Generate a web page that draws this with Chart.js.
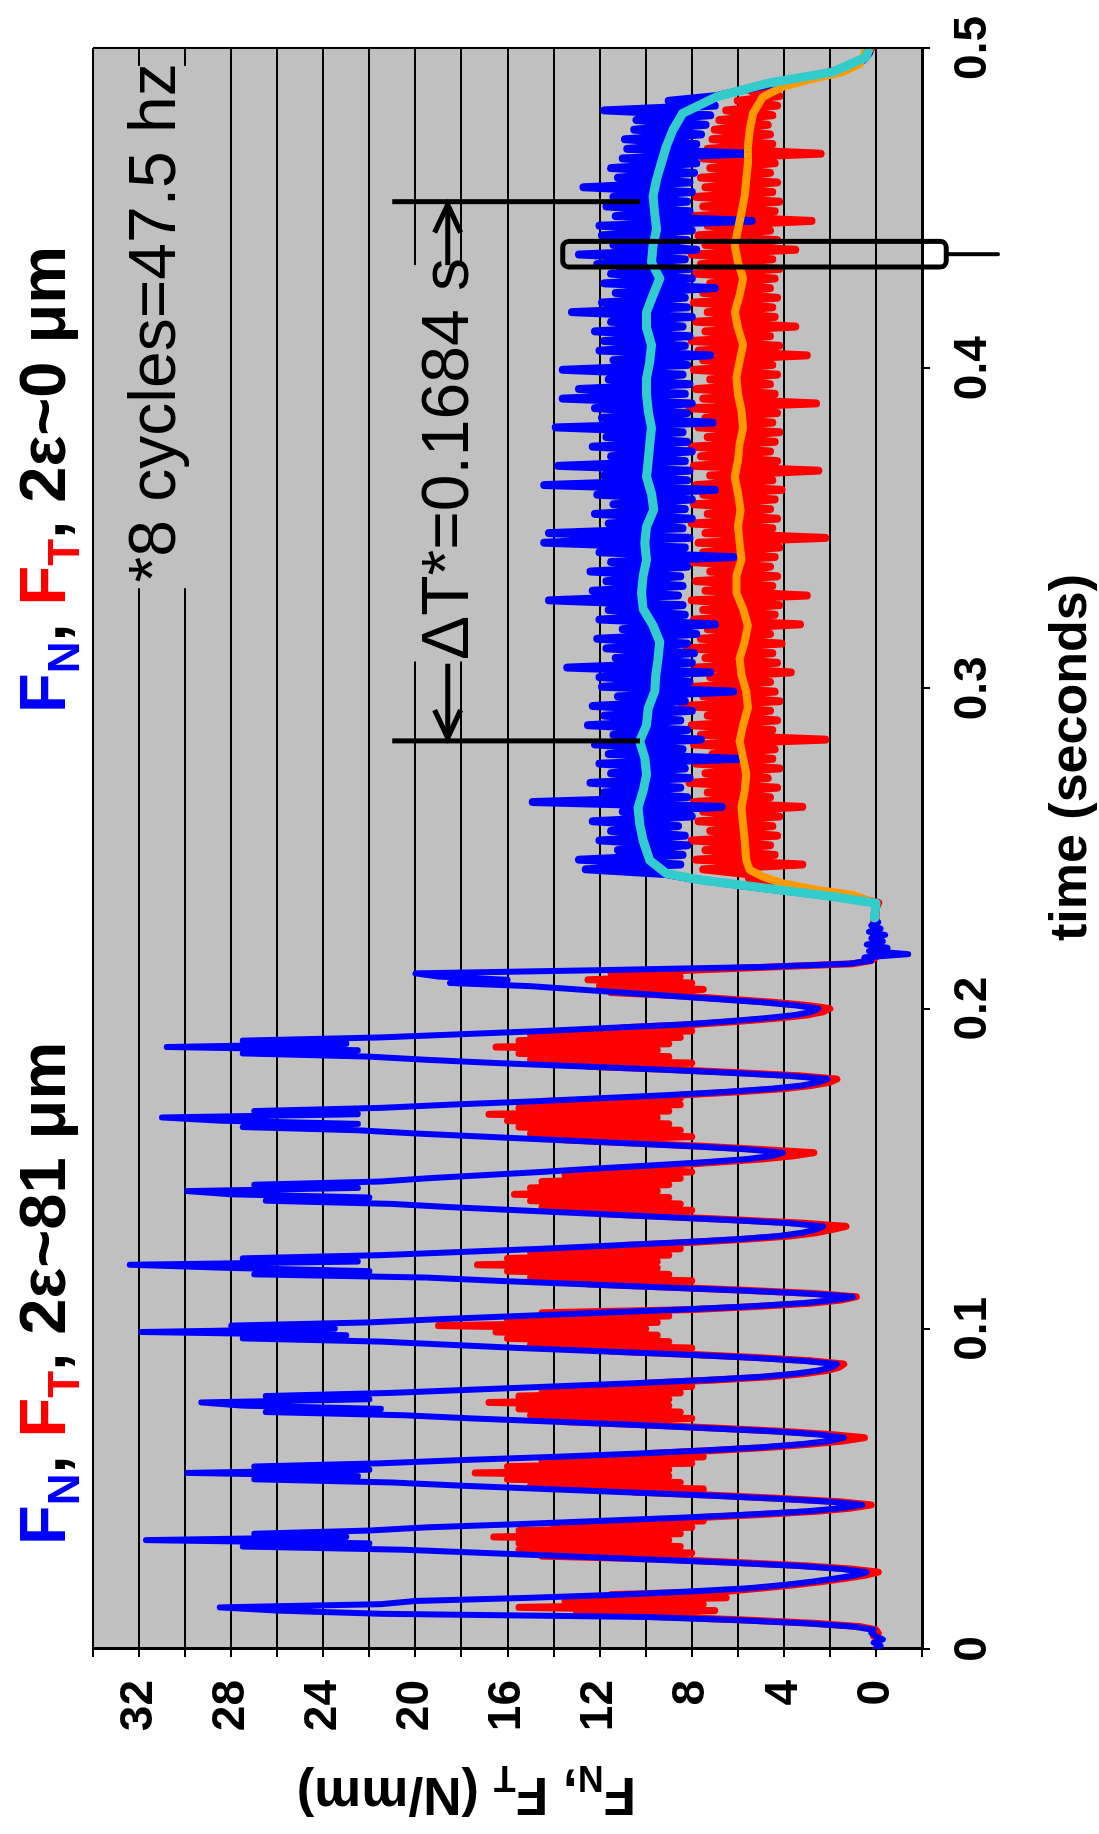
<!DOCTYPE html>
<html>
<head>
<meta charset="utf-8">
<script src="https://cdn.jsdelivr.net/npm/chart.js@4/dist/chart.umd.min.js"></script>
<style>
html, body { margin: 0; padding: 0; background: #fff; overflow: hidden; }
/* the figure is drawn lying on its side: time runs up the page */
#wrap { position: absolute; left: 0; top: 0; width: 1834px; height: 1099px;
        transform-origin: 0 0; transform: translate(0, 1834px) rotate(-90deg); }
</style>
</head>
<body>
<div id="wrap"><canvas id="chart" width="1834" height="1099"></canvas></div>
<script>
// ---- traces ----
// first run, 2e ~ 81 um, one sample per ms from t = 0
const sweepStart = 0
const sweepStep = 0.001
const fnSweep = [
  0.0, -0.2, 0.1, -0.3, 0.0, 0.2, 0.1, 1.0, 3.0, 6.0,
  10.0, 21.5, 26.0, 28.5, 21.5, 20.0, 15.0, 11.0, 8.0, 5.5,
  4.0, 2.8, 1.8, 0.9, 0.4, 1.5, 3.5, 6.5, 10.0, 13.5,
  17.0, 20.5, 27.5, 22.0, 31.7, 23.0, 27.0, 22.0, 19.5, 15.5,
  12.0, 8.5, 5.5, 3.0, 1.5, 0.6, 2.0, 4.5, 7.5, 11.0,
  14.5, 18.0, 21.0, 27.0, 22.5, 29.9, 22.0, 27.0, 21.5, 18.0,
  14.0, 10.5, 7.5, 5.0, 3.2, 2.0, 1.4, 2.5, 4.5, 7.5,
  10.5, 14.0, 17.5, 20.5, 26.5, 21.5, 27.5, 29.3, 22.0, 26.5,
  21.0, 17.5, 14.0, 10.5, 7.5, 5.0, 3.5, 2.5, 1.9, 1.7,
  3.2, 5.5, 8.5, 12.0, 15.5, 18.5, 21.5, 27.5, 23.0, 31.9,
  23.5, 28.0, 22.0, 19.0, 15.5, 12.0, 8.5, 5.5, 3.2, 1.8,
  1.0, 3.0, 6.0, 9.5, 13.0, 16.5, 19.5, 27.0, 22.0, 28.0,
  32.4, 22.5, 27.5, 21.5, 18.0, 14.5, 11.5, 8.5, 6.0, 4.2,
  3.2, 2.6, 2.3, 3.8, 6.5, 9.5, 12.5, 15.5, 18.5, 21.0,
  26.5, 22.0, 28.0, 29.9, 22.5, 27.0, 21.5, 19.5, 17.0, 14.5,
  12.3, 9.8, 7.5, 5.6, 4.5, 4.05, 5.5, 8.0, 11.0, 14.0,
  17.0, 20.0, 22.5, 27.5, 22.5, 28.5, 31.0, 22.5, 27.0, 21.5,
  18.5, 15.0, 12.0, 9.0, 6.5, 4.5, 3.2, 2.5, 2.1, 3.8,
  6.5, 9.5, 13.0, 16.5, 19.5, 22.0, 27.5, 22.5, 30.8, 23.0,
  27.5, 21.5, 18.0, 14.5, 11.5, 8.5, 6.5, 4.8, 3.5, 2.8,
  2.5, 3.5, 5.0, 7.0, 9.0, 11.0, 13.0, 15.0, 18.5, 16.0,
  19.0, 20.0, 12.0, 5.0, 1.2, 0.2, 0.5, -1.4, 0.3, -0.5,
  0.4, -0.3, 0.2, -0.4, 0.3, -0.2, 0.2, -0.1, 0.1, 0.0
]
const ftSweep = [
  0.0, -0.1, 0.0, -0.2, 0.1, -0.1, 0.0, 0.7, 2.6, 5.5,
  9.0, 13.0, 7.0, 15.5, 7.5, 13.5, 6.5, 11.5, 6.5, 5.0,
  3.6, 2.4, 1.4, 0.5, -0.1, 1.1, 3.1, 6.0, 9.0, 14.5,
  8.0, 15.5, 8.5, 15.5, 9.0, 16.6, 8.5, 15.5, 8.0, 14.0,
  7.5, 7.8, 5.0, 2.6, 1.1, 0.2, 1.6, 4.1, 7.0, 10.5,
  7.5, 15.0, 8.5, 16.0, 9.0, 17.4, 9.0, 16.0, 8.0, 14.5,
  7.5, 10.0, 7.0, 4.6, 2.8, 1.4, 0.5, 2.0, 4.1, 7.0,
  10.0, 13.5, 8.0, 15.0, 8.5, 15.5, 9.0, 16.8, 9.0, 15.5,
  8.5, 14.5, 8.0, 10.0, 7.0, 4.6, 3.1, 2.1, 1.6, 1.4,
  2.8, 5.1, 8.0, 11.5, 8.0, 15.0, 9.0, 16.0, 9.5, 16.5,
  10.0, 19.0, 9.5, 16.0, 9.0, 14.5, 8.0, 5.1, 2.8, 1.5,
  0.85, 2.6, 5.6, 9.0, 12.5, 8.0, 15.0, 9.0, 16.0, 9.5,
  17.3, 9.5, 16.0, 9.0, 15.0, 8.5, 11.0, 8.0, 5.6, 3.7,
  2.6, 1.9, 1.3, 3.2, 6.0, 9.0, 12.0, 8.0, 14.5, 8.5,
  15.0, 9.0, 15.7, 9.5, 15.0, 9.0, 14.5, 8.5, 13.5, 8.0,
  11.5, 9.0, 7.0, 5.0, 3.6, 2.7, 5.0, 7.5, 10.5, 13.5,
  8.0, 15.0, 8.5, 15.5, 9.0, 16.0, 9.5, 16.8, 9.0, 15.5,
  8.5, 14.5, 8.5, 8.5, 6.0, 4.0, 2.8, 2.0, 1.7, 3.3,
  6.0, 9.0, 12.5, 8.0, 15.0, 9.0, 15.5, 9.5, 16.5, 9.0,
  15.5, 8.5, 15.0, 8.0, 11.0, 8.0, 6.0, 4.3, 3.0, 2.3,
  2.0, 3.0, 4.5, 6.5, 8.5, 11.5, 7.5, 12.0, 8.0, 12.5,
  8.5, 11.5, 8.0, 4.5, 1.0, 0.2, 0.0, 0.1, 0.0, 0.1,
  0.0, 0.1, 0.0, 0.1, 0.0, 0.1, 0.0, 0.1, 0.0, 0.0
]

// second run, 2e ~ 0 um, one sample per 1.5 ms from t = 0.230
const steadyStart = 0.230
const steadyStep = 0.0015
const fnSteady = [
  0.05, 0.0, 0.0, 1.2, 3.0, 4.7, 6.4, 7.9, 9.1, 12.6,
  8.5, 12.9, 8.4, 11.2, 8.2, 12.0, 8.3, 11.5, 8.6, 12.3,
  8.0, 11.0, 6.7, 14.9, 8.2, 11.8, 8.5, 12.4, 8.1, 11.5,
  8.3, 12.0, 6.0, 11.6, 8.4, 12.2, 7.6, 11.4, 8.2, 12.5,
  8.5, 11.8, 8.0, 12.3, 8.3, 11.2, 6.2, 11.9, 8.1, 12.0,
  7.2, 13.4, 8.0, 11.3, 7.9, 11.7, 8.2, 12.1, 7.8, 11.0,
  7.0, 12.0, 8.3, 11.6, 8.4, 14.2, 8.6, 12.3, 8.4, 11.7,
  8.5, 12.4, 8.2, 11.5, 6.2, 12.0, 8.3, 14.4, 8.1, 14.2,
  8.4, 11.6, 8.0, 12.2, 8.3, 11.4, 8.0, 12.1, 7.0, 14.4,
  8.2, 11.8, 8.1, 13.8, 8.3, 11.5, 8.0, 12.3, 8.2, 11.7,
  8.4, 13.9, 7.1, 11.9, 8.2, 12.2, 8.0, 13.6, 8.3, 12.9,
  8.1, 11.6, 8.4, 13.6, 8.2, 11.4, 7.2, 12.0, 8.3, 11.8,
  8.1, 12.2, 8.4, 11.5, 8.0, 13.2, 8.2, 11.9, 8.3, 11.3,
  7.0, 11.8, 8.0, 11.5, 8.1, 12.1, 8.3, 12.9, 7.8, 11.4,
  8.2, 11.9, 8.0, 12.0, 5.4, 11.3, 8.1, 11.7, 8.2, 11.4,
  8.0, 12.7, 8.1, 11.2, 7.9, 11.5, 7.8, 11.0, 5.7, 10.8,
  7.8, 10.9, 7.6, 10.5, 7.4, 10.4, 7.2, 11.8, 7.0, 9.0,
  6.9, 6.0, 5.0, 4.0, 2.9, 1.9, 1.2, 0.7, 0.45, 0.3,
  0.3
]
const ftSteady = [
  0.0, 0.0, -0.1, 0.8, 2.3, 3.9, 4.9, 5.5, 5.6, 7.5,
  3.2, 7.8, 4.4, 7.4, 4.6, 8.0, 4.3, 7.2, 4.5, 7.7,
  4.2, 7.5, 3.2, 7.9, 4.6, 7.3, 4.3, 8.1, 4.7, 7.4,
  4.2, 7.8, 4.5, 7.1, 4.4, 7.9, 2.2, 7.6, 4.5, 8.0,
  4.3, 7.3, 4.6, 8.4, 4.2, 7.5, 4.4, 7.9, 4.6, 7.2,
  3.7, 7.8, 4.3, 7.4, 4.5, 8.2, 4.1, 7.6, 4.6, 7.3,
  3.3, 7.9, 4.4, 7.5, 4.2, 8.0, 3.0, 7.4, 4.5, 7.8,
  4.3, 7.2, 4.6, 8.1, 4.4, 7.5, 4.2, 7.7, 2.2, 7.4,
  4.5, 8.0, 4.3, 7.3, 4.6, 7.9, 4.4, 7.5, 4.1, 7.8,
  4.5, 7.2, 2.5, 7.9, 4.3, 7.6, 4.6, 8.0, 4.4, 7.3,
  4.2, 7.7, 4.5, 7.4, 4.3, 8.1, 2.6, 7.5, 4.4, 7.8,
  4.6, 7.2, 4.3, 7.9, 4.5, 7.5, 3.0, 7.7, 4.2, 8.0,
  4.6, 7.4, 3.5, 7.8, 4.4, 7.3, 4.5, 7.9, 4.3, 7.5,
  4.6, 7.2, 4.4, 7.8, 4.2, 7.6, 4.5, 8.0, 3.5, 7.4,
  4.3, 7.7, 4.6, 7.3, 2.8, 7.9, 4.4, 7.5, 4.2, 7.8,
  4.5, 7.4, 4.3, 7.6, 4.6, 7.2, 4.4, 7.5, 2.4, 7.3,
  4.5, 7.1, 4.6, 7.0, 4.7, 6.8, 4.5, 6.5, 4.3, 6.0,
  4.2, 5.4, 4.3, 3.8, 2.8, 2.0, 1.3, 0.8, 0.5, 0.3,
  0.2
]

// smoothed traces of the second run
const fnMeanTime = [
  0.2283, 0.2329, 0.2350, 0.2376, 0.2402, 0.2422, 0.2463,
  0.2525, 0.2577, 0.2628, 0.2680, 0.2732, 0.2783, 0.2835, 0.2886, 0.2938, 0.2990,
  0.3041, 0.3093, 0.3145, 0.3196, 0.3248, 0.3299, 0.3351, 0.3402, 0.3454, 0.3506,
  0.3557,
  0.3609, 0.3660, 0.3712, 0.3764, 0.3815, 0.3867, 0.3918, 0.3970, 0.4022, 0.4073,
  0.4125, 0.4176, 0.4228, 0.4280, 0.4331, 0.4383, 0.4434, 0.4486, 0.4538, 0.4589,
  0.4641, 0.4693, 0.4744, 0.4796,
  0.4847, 0.4889, 0.4925, 0.4971, 0.4997
]
const fnMean = [
  0.06, 0.0, 1.88, 4.77, 7.66, 9.1, 9.82,
  10.11, 10.26, 10.33, 10.11, 9.96, 10.04, 10.26, 9.96, 9.89, 9.61,
  9.56, 9.46, 9.39, 9.68, 10.11, 10.18, 10.11, 9.96, 10.04, 9.96,
  9.65,
  9.75, 9.96, 9.89, 9.82, 9.75, 9.89, 9.96, 9.96, 9.82, 9.75,
  9.96, 9.96, 9.68, 9.39, 9.75, 9.68, 9.53, 9.61, 9.68, 9.53,
  9.32, 9.1, 8.82, 8.39,
  6.94, 4.77, 1.88, 0.44, 0.3
]
const ftMeanTime = [
  0.2283, 0.2329, 0.2355, 0.2371, 0.2391, 0.2412, 0.2433, 0.2463,
  0.2525, 0.2577, 0.2628, 0.2680, 0.2732, 0.2783, 0.2835, 0.2886, 0.2938, 0.2990,
  0.3041, 0.3093, 0.3145, 0.3196, 0.3248, 0.3299, 0.3351, 0.3402, 0.3454, 0.3506,
  0.3557,
  0.3609, 0.3660, 0.3712, 0.3764, 0.3815, 0.3867, 0.3918, 0.3970, 0.4022, 0.4073,
  0.4125, 0.4176, 0.4228, 0.4280, 0.4331, 0.4383, 0.4434, 0.4486, 0.4538, 0.4589,
  0.4641, 0.4693, 0.4744, 0.4796,
  0.4847, 0.4879, 0.4899, 0.4925, 0.4950, 0.4981, 0.4997
]
const ftMean = [
  0.05, 0.0, 1.0, 2.59, 4.04, 4.91, 5.48, 5.63,
  5.70, 5.77, 5.84, 5.70, 5.63, 5.77, 5.92, 5.77, 5.56, 5.63,
  5.84, 5.92, 5.70, 5.56, 5.77, 6.06, 6.06, 5.84, 5.92, 5.99,
  5.88,
  5.99, 6.13, 5.99, 5.92, 5.77, 5.84, 5.99, 6.06, 5.92, 5.77,
  5.99, 6.13, 5.92, 5.77, 5.99, 6.13, 5.99, 5.84, 5.70, 5.63,
  5.56, 5.56, 5.48, 5.34,
  4.91, 4.04, 3.02, 1.44, 0.71, 0.49, 0.49
]

const forceLabels = [0, 4, 8, 12, 16, 20, 24, 28, 32]

// annotation marks, in data units (time s, force N/mm)
const deltaStart = 0.2836
const deltaEnd = 0.4520
const windowStart = 0.4316
const windowEnd = 0.4396

// ---- drawing ----
const BLUE = '#0000ff', RED = '#ff0000'
const FONT = '"Liberation Sans", Arial, sans-serif'
const TICK_FONT = '"Liberation Sans Narrow", "Liberation Sans", Arial, sans-serif'

function series (start, step, vals) {
  return vals.map((v, i) => ({ x: +(start + i * step).toFixed(5), y: v }))
}
function pairs (ts, vals) {
  return ts.map((t, i) => ({ x: t, y: vals[i] }))
}

function drawParts (ctx, parts, x, y, size, weight) {
  let cx = x
  for (const p of parts) {
    const s = p.sub ? Math.round(size * 0.68) : size
    ctx.font = weight + ' ' + s + 'px ' + FONT
    ctx.fillStyle = p.color || '#000'
    ctx.fillText(p.text, cx, y + (p.sub ? size * 0.22 : 0))
    cx += ctx.measureText(p.text).width
  }
}

function roundBox (ctx, x0, y0, x1, y1, r) {
  ctx.beginPath()
  ctx.moveTo(x0 + r, y0)
  ctx.arcTo(x1, y0, x1, y1, r)
  ctx.arcTo(x1, y1, x0, y1, r)
  ctx.arcTo(x0, y1, x0, y0, r)
  ctx.arcTo(x0, y0, x1, y0, r)
  ctx.closePath()
  ctx.stroke()
}

function arrow (ctx, x0, x1, y) {
  const dir = Math.sign(x1 - x0)
  ctx.beginPath(); ctx.moveTo(x0, y); ctx.lineTo(x1 - dir * 4, y); ctx.stroke()
  ctx.beginPath()
  ctx.moveTo(x1 - dir * 28, y - 13)
  ctx.lineTo(x1, y)
  ctx.lineTo(x1 - dir * 28, y + 13)
  ctx.stroke()
}

const decor = {
  id: 'decor',
  beforeDraw (chart) {
    const { ctx, chartArea: a } = chart
    ctx.save()
    ctx.fillStyle = '#c0c0c0'
    ctx.fillRect(a.left, a.top, a.right - a.left, a.bottom - a.top)
    ctx.restore()
  },
  beforeDatasetsDraw (chart) {
    // plain background behind the two notes, so the grid stops there
    const { ctx, scales: { x, y } } = chart
    ctx.save()
    ctx.fillStyle = '#c0c0c0'
    const boxes = [[0.3313, 0.4944, 33.9, 29.4], [0.3084, 0.4322, 20.8, 17.1]]
    for (const [t0, t1, f0, f1] of boxes) {
      const x0 = x.getPixelForValue(t0), x1 = x.getPixelForValue(t1)
      const y0 = y.getPixelForValue(f0), y1 = y.getPixelForValue(f1)
      ctx.fillRect(x0, y0, x1 - x0, y1 - y0)
    }
    ctx.restore()
  },
  afterDraw (chart) {
    const { ctx, chartArea: a, scales: { x, y } } = chart
    ctx.save()
    ctx.strokeStyle = '#000'
    ctx.fillStyle = '#000'
    ctx.lineWidth = 2
    ctx.beginPath(); ctx.moveTo(a.right, a.top); ctx.lineTo(a.right, a.bottom); ctx.stroke()

    // delta T markers
    ctx.lineWidth = 5
    for (const t of [deltaStart, deltaEnd]) {
      const px = x.getPixelForValue(t)
      ctx.beginPath(); ctx.moveTo(px, y.getPixelForValue(21.0)); ctx.lineTo(px, y.getPixelForValue(10.25)); ctx.stroke()
    }
    const ay = y.getPixelForValue(18.6)
    arrow(ctx, x.getPixelForValue(0.3077), x.getPixelForValue(0.2845), ay)
    arrow(ctx, x.getPixelForValue(0.4322), x.getPixelForValue(0.4511), ay)

    // window box
    ctx.lineWidth = 5
    ctx.lineCap = 'round'
    const bx0 = x.getPixelForValue(windowStart), bx1 = x.getPixelForValue(windowEnd)
    const by0 = y.getPixelForValue(13.6), by1 = y.getPixelForValue(-3.05)
    roundBox(ctx, bx0, by0, bx1, by1, 6)
    const bm = (bx0 + bx1) / 2
    ctx.lineWidth = 4
    ctx.beginPath(); ctx.moveTo(bm, by1); ctx.lineTo(bm, y.getPixelForValue(-5.3)); ctx.stroke()

    // notes
    ctx.textAlign = 'left'
    ctx.textBaseline = 'alphabetic'
    ctx.font = 'normal 66px ' + FONT
    ctx.fillText('*8 cycles=47.5 hz', x.getPixelForValue(0.3331), y.getPixelForValue(30.44))
    ctx.fillText('\u0394T*=0.1684 s', x.getPixelForValue(0.3089), y.getPixelForValue(17.72))

    // headings
    const head = (rest) => [
      { text: 'F', color: BLUE }, { text: 'N', color: BLUE, sub: true }, { text: ', ' },
      { text: 'F', color: RED }, { text: 'T', color: RED, sub: true }, { text: rest }
    ]
    drawParts(ctx, head(', 2\u03b5~81 \u03bcm'), 289, 65, 65, 'bold')
    drawParts(ctx, head(', 2\u03b5~0 \u03bcm'), 1121, 65, 65, 'bold')

    // axis titles
    drawParts(ctx, [{ text: 'time (seconds)' }], 893, 1086, 52, 'bold')
    ctx.translate(56, 636)
    ctx.rotate(-Math.PI / 2)
    drawParts(ctx, [
      { text: 'F' }, { text: 'N', sub: true }, { text: ', F' }, { text: 'T', sub: true }, { text: ' (N/mm)' }
    ], 0, 0, 53, 'bold')
    ctx.restore()
  }
}

const line = (data, color, width, order) => ({
  data, borderColor: color, borderWidth: width, order,
  pointRadius: 0, tension: 0, borderCapStyle: 'round', borderJoinStyle: 'round'
})

new Chart(document.getElementById('chart'), {
  type: 'line',
  data: {
    datasets: [
      line(pairs(fnMeanTime, fnMean), '#33cccc', 9, 0),
      line(pairs(ftMeanTime, ftMean), '#ff9900', 8, 1),
      line(series(sweepStart, sweepStep, fnSweep), BLUE, 6, 2),
      line(series(steadyStart, steadyStep, fnSteady), BLUE, 8, 2),
      line(series(sweepStart, sweepStep, ftSweep), RED, 7, 3),
      line(series(steadyStart, steadyStep, ftSteady), RED, 8, 3)
    ]
  },
  options: {
    responsive: false,
    devicePixelRatio: 1,
    animation: false,
    layout: { padding: { top: 93, right: 34, bottom: 0, left: 0 } },
    plugins: { legend: { display: false }, tooltip: { enabled: false } },
    scales: {
      x: {
        type: 'linear', min: 0, max: 0.5,
        afterFit (scale) { scale.height = 177 },
        ticks: { stepSize: 0.1, autoSkip: false, maxRotation: 0, padding: 16, color: '#000',
                 font: { family: TICK_FONT, size: 46, weight: 'bold' } },
        grid: { drawOnChartArea: false, tickLength: 8, color: '#000', lineWidth: 2 },
        border: { color: '#000', width: 3 }
      },
      y: {
        type: 'linear', min: -2, max: 34,
        afterFit (scale) { scale.width = 185 },
        ticks: { stepSize: 2, autoSkip: false, padding: 23, color: '#000',
                 font: { family: TICK_FONT, size: 46, weight: 'bold' },
                 callback: v => forceLabels.includes(v) ? String(v) : '' },
        grid: { tickLength: 8, color: '#000', lineWidth: 2 },
        border: { color: '#000', width: 3 }
      }
    }
  },
  plugins: [decor]
})
</script>
</body>
</html>
